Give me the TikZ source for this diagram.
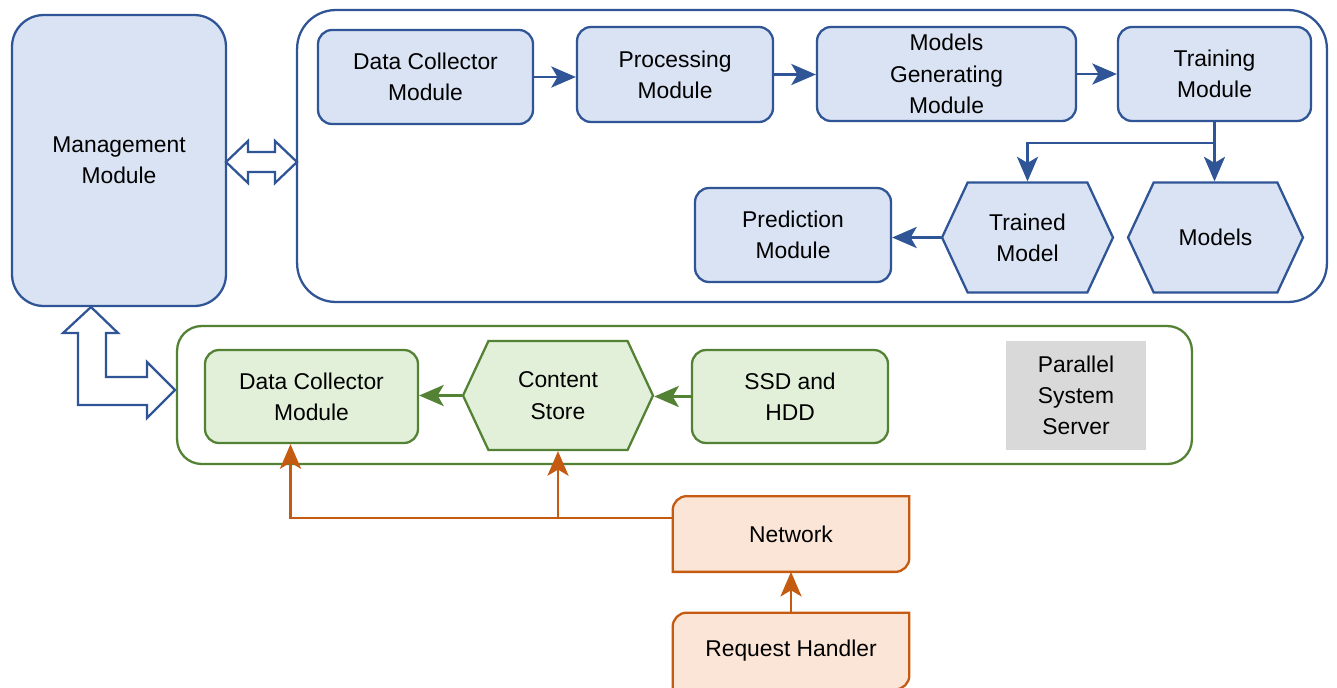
\documentclass[tikz,border=0pt]{standalone}
\usepackage{fontspec}
\setmainfont{Liberation Sans}
\usetikzlibrary{positioning, arrows.meta, shapes.symbols, calc, backgrounds}
\definecolor{mgmtblue}{RGB}{47,85,151}
\definecolor{mgmtfill}{RGB}{218,227,243}
\definecolor{storegreen}{RGB}{84,130,53}
\definecolor{storefill}{RGB}{226,240,217}
\definecolor{netorange}{RGB}{197,90,17}
\definecolor{netfill}{RGB}{251,229,214}
\definecolor{servergray}{RGB}{217,217,217}
\tikzset{
label font/.style={
    font=\fontsize{13}{17.8}\selectfont,
    align=center
},
module/.style={
    label font,
    draw=mgmtblue,
    fill=mgmtfill,
    line width=1.3pt,
    rounded corners=8pt,
    inner sep=2pt
},
storebox/.style={
    module,
    draw=storegreen,
    fill=storefill
},
hexa/.style={
    module,
    signal,
    signal to=west and east,
    signal pointer angle=130,
    rounded corners=0pt
},
frame/.style={
    draw=#1,
    line width=1.3pt,
    fill=white
},
cutbox/.style={
    label font,
    inner sep=2pt
},
blockarrow/.style={
    draw=mgmtblue,
    fill=white,
    line width=1.3pt,
    line join=miter
},
flow/.style={
    draw=#1,
    line width=1.5pt,
    -{Stealth[length=14pt, width=12pt, inset=3.5pt]}
}
}
% corners cut at top left and bottom right
\newcommand{\cutshape}[1]{%
  \draw[draw=netorange, fill=netfill, line width=1.3pt]
    (#1.south west) -- ([yshift=-8pt]#1.north west)
    arc[start angle=180, end angle=90, radius=8pt]
    -- (#1.north east) -- ([yshift=8pt]#1.south east)
    arc[start angle=0, end angle=-90, radius=8pt] -- cycle;}

\begin{document}
\begin{tikzpicture}[x=0.02cm, y=-0.02cm]
\useasboundingbox (0,0) rectangle (1337,687);

% CONTAINERS
\node[frame=mgmtblue, rounded corners=22pt, minimum width=20.6cm, minimum height=5.84cm] (mlframe) at (812,156) {};
\node[frame=storegreen, rounded corners=14pt, minimum width=20.3cm, minimum height=2.76cm] (pssframe) at (684.5,395) {};

% LEFT: MANAGEMENT
\node[module, rounded corners=18pt, minimum width=4.28cm, minimum height=5.82cm] (mgmt) at (119,160.5) {Management\\Module};

% TOP: LEARNING PIPELINE
\node[module, minimum width=4.3cm, minimum height=1.88cm] (collect) at (425.5,77) {Data Collector\\Module};
\node[module, minimum width=3.92cm, minimum height=1.9cm] (process) at (675,74.5) {Processing\\Module};
\node[module, minimum width=5.18cm, minimum height=1.88cm] (generate) at (946.5,74) {Models\\Generating\\Module};
\node[module, minimum width=3.86cm, minimum height=1.88cm] (train) at (1214.5,74) {Training\\Module};
\node[hexa, minimum width=3.42cm, minimum height=2.2cm] (trained) at (1027.5,237.5) {Trained\\Model};
\node[hexa, minimum width=3.5cm, minimum height=2.2cm] (models) at (1215.5,237.5) {Models};
\node[module, minimum width=3.92cm, minimum height=1.88cm] (predict) at (793,235) {Prediction\\Module};

% MIDDLE: PARALLEL SYSTEM SERVER
\node[storebox, minimum width=4.26cm, minimum height=1.86cm] (pcollect) at (311.5,396.5) {Data Collector\\Module};
\node[storebox, hexa, draw=storegreen, fill=storefill, minimum width=3.8cm, minimum height=2.18cm] (store) at (558,395.5) {Content\\Store};
\node[storebox, minimum width=3.92cm, minimum height=1.86cm] (disk) at (790,396.5) {SSD and\\HDD};
\node[label font, fill=servergray, minimum width=2.8cm, minimum height=2.18cm] (pss) at (1076,395.5) {Parallel\\System\\Server};

% BOTTOM: NETWORK
\node[cutbox, minimum width=4.72cm, minimum height=1.5cm] (net) at (791,534) {Network};
\node[cutbox, minimum width=4.72cm, minimum height=1.52cm] (req) at (791,651) {Request Handler};
\begin{scope}[on background layer]
\cutshape{net}
\cutshape{req}
\end{scope}

% BLOCK ARROWS
\draw[blockarrow] (226,162) -- (248,141) -- (248,152) -- (275,152) -- (275,141) -- (297,162)
  -- (275,183) -- (275,172) -- (248,172) -- (248,183) -- cycle;
\draw[blockarrow] (91,307) -- (118,333) -- (106,333) -- (106,377) -- (147,377) -- (147,362)
  -- (175,390) -- (147,418) -- (147,405) -- (78,405) -- (78,333) -- (63,333) -- cycle;

% ARROWS
\draw[flow=mgmtblue] (collect.east) -- (collect.east -| process.west);
\draw[flow=mgmtblue] (process.east) -- (process.east -| generate.west);
\draw[flow=mgmtblue] (generate.east) -- (generate.east -| train.west);
\coordinate (split) at (1214.5,143);
\draw[flow=mgmtblue] (train.south) -- (train.south |- models.north);
\draw[flow=mgmtblue] (split) -| (trained.north);
\draw[flow=mgmtblue] (trained.west) -- (trained.west -| predict.east);

\draw[flow=storegreen] (disk.west) -- (disk.west -| store.east);
\draw[flow=storegreen] (store.west) -- (store.west -| pcollect.east);

\coordinate (feed) at ($(net.west)+(0,-16)$);
\draw[flow=netorange] (req.north) -- (net.south);
\draw[flow=netorange] (feed) -| ($(pcollect.south)+(-21,0)$);
\draw[flow=netorange] (feed -| store.south) -- (store.south);

\end{tikzpicture}
\end{document}
